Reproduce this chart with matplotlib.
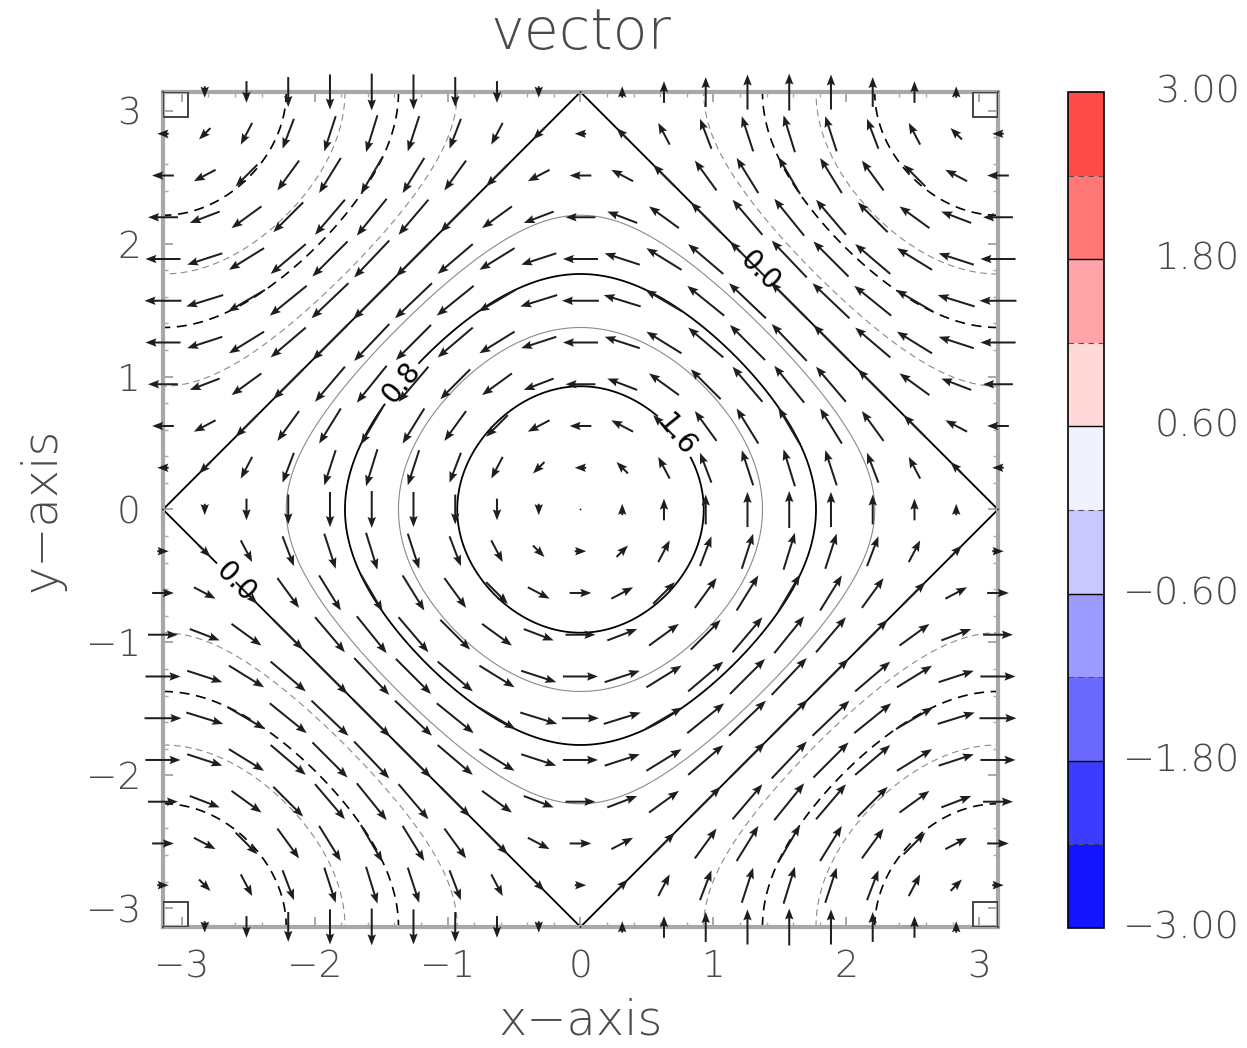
import numpy as np
import matplotlib
matplotlib.use('Agg')
import matplotlib.pyplot as plt
from matplotlib.colors import ListedColormap, BoundaryNorm
from matplotlib.cm import ScalarMappable
from matplotlib.patches import Rectangle
from matplotlib.transforms import blended_transform_factory

# field: stream function psi = cos(x) + cos(y), velocity u = -sin(y), v = sin(x)
n_arrows = 21
thin_levels = [-1.2, -0.4, 0.4, 1.2]
thick_neg_levels = [-1.6, -0.8]
labelled_levels = [0.0, 0.8, 1.6]
label_positions = [(1.35, 1.8), (-1.35, 0.95), (0.62, 0.48), (-2.6, -0.55)]
xticks = [-3, -2, -1, 0, 1, 2, 3]
yticks = [-3, -2, -1, 0, 1, 2, 3]
cbar_bounds = [-3.0, -2.4, -1.8, -1.2, -0.6, 0.0, 0.6, 1.2, 1.8, 2.4, 3.0]
cbar_colors = ['#1414ff', '#3c3cff', '#6a6aff', '#9a9aff', '#c8c8ff',
               '#f2f2ff', '#ffd8d8', '#ffa4a8', '#ff7878', '#ff4a4a']
cbar_labels = [-3.0, -1.8, -0.6, 0.6, 1.8, 3.0]

FONT = dict(family='DejaVu Sans', weight='light', color='#4a4a4a')
GREY = '#a8a8a8'
DASH = (0, (6, 4))

xa = np.linspace(-np.pi, np.pi, n_arrows)
X, Y = np.meshgrid(xa, xa)
U = -np.sin(Y)
V = np.sin(X)

xf = np.linspace(-np.pi, np.pi, 400)
XF, YF = np.meshgrid(xf, xf)
PSI = np.cos(XF) + np.cos(YF)

fig = plt.figure(figsize=(12.47, 10.48), dpi=100)
ax = fig.add_axes([0.1307, 0.1155, 0.6696, 0.7967])
cax = fig.add_axes([0.8565, 0.1145, 0.0289, 0.7977])

# contours
ax.contour(XF, YF, PSI, levels=thin_levels, colors='#8a8a8a', linewidths=0.8,
           linestyles=[DASH if l < 0 else 'solid' for l in thin_levels])
ax.contour(XF, YF, PSI, levels=thick_neg_levels, colors='black', linewidths=1.2,
           linestyles=[DASH, DASH])
cs = ax.contour(XF, YF, PSI, levels=labelled_levels, colors='black',
                linewidths=1.3, linestyles='solid')
ax.clabel(cs, manual=label_positions, fmt='%.1f', fontsize=20, inline=True,
          inline_spacing=4, colors='black')

# vectors
ax.quiver(X, Y, U, V, pivot='mid', angles='xy', scale_units='xy', scale=3.6,
          color='#1e1e1e', width=0.0024, headwidth=4.2, headlength=5.5,
          headaxislength=4.8, zorder=3, clip_on=False)

ax.set_xlim(-np.pi, np.pi)
ax.set_ylim(-np.pi, np.pi)
ax.set_xticks(xticks)
ax.set_yticks(yticks)
ax.set_xticks(np.arange(-3.0, 3.01, 0.2), minor=True)
ax.set_yticks(np.arange(-3.0, 3.01, 0.2), minor=True)
ax.tick_params(which='both', direction='in', top=True, right=True, color=GREY)
ax.tick_params(which='major', length=7, width=1.4, pad=16, labelsize=27,
               labelcolor='#4a4a4a')
ax.tick_params(which='minor', length=3.5, width=1.0)
for lab in ax.get_xticklabels() + ax.get_yticklabels():
    lab.set_fontweight('light')
for sp in ax.spines.values():
    sp.set_color(GREY)
    sp.set_linewidth(3)

# little squares in the corners
s = 0.03
for cx, cy in [(0, 0), (1 - s, 0), (0, 1 - s), (1 - s, 1 - s)]:
    ax.add_patch(Rectangle((cx, cy), s, s, transform=ax.transAxes,
                           fill=False, edgecolor='#444444', lw=1.4, zorder=4))

fig.text(0.4659, 0.9685, 'vector', ha='center', va='center', fontsize=41, **FONT)
fig.text(0.4659, 0.0255, 'x\u2212axis', ha='center', va='center', fontsize=34.5, **FONT)
fig.text(0.0337, 0.5134, 'y\u2212axis', ha='center', va='center', rotation=90,
         fontsize=34.5, **FONT)

# colour bar
cmap = ListedColormap(cbar_colors)
norm = BoundaryNorm(cbar_bounds, cmap.N)
cb = fig.colorbar(ScalarMappable(norm=norm, cmap=cmap), cax=cax)
cb.set_ticks([])
cb.outline.set_edgecolor('black')
cb.outline.set_linewidth(1.2)
cax.minorticks_off()
for i, b in enumerate(cbar_bounds[1:-1]):
    if i % 2 == 1:
        cax.axhline(b, color='black', lw=1.0)
    else:
        cax.axhline(b, color='#555555', lw=0.8, ls=(0, (5, 4)))
tr = blended_transform_factory(fig.transFigure, cax.transData)
for v in cbar_labels:
    cax.text(0.9944, v, '%.2f' % v if v >= 0 else '\u2212%.2f' % abs(v),
             transform=tr, ha='right', va='center', fontsize=27.5, **FONT)

fig.savefig('out.png', dpi=100)
